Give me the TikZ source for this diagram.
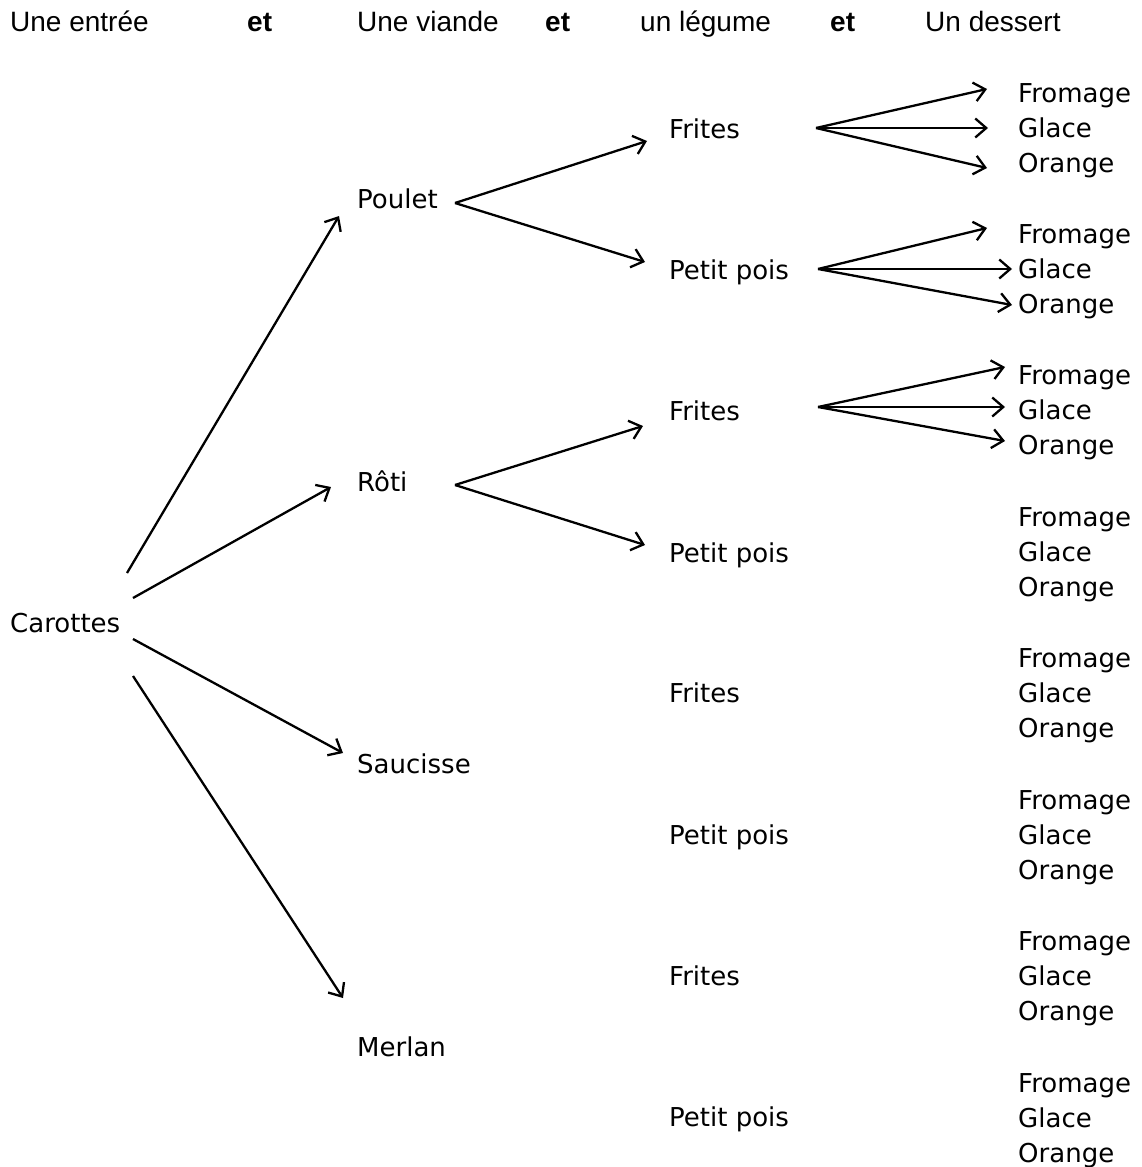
\documentclass[tikz,border=0pt]{standalone}
\usepackage{fontspec}
\setmainfont{DejaVu Sans}
\newfontfamily\headfont{Liberation Sans}
\usetikzlibrary{arrows.meta,calc}
\begin{document}
\begin{tikzpicture}[x=1pt,y=-1pt,
  lbl/.style={anchor=base west,inner sep=0pt,font=\fontsize{26}{30}\selectfont},
  hd/.style={anchor=base west,inner sep=0pt,font=\headfont\fontsize{28}{32}\selectfont},
  hdb/.style={hd,font=\headfont\bfseries\fontsize{28}{32}\selectfont},
  arr/.style={line width=2.3pt,-{Straight Barb[length=11pt,width=19pt]}}]
\useasboundingbox (0,0) rectangle (1141,1167);
% headers
\node[hd]  (h1) at (10,31)  {Une entrée};
\node[hdb] (e1) at (247,31) {et};
\node[hd]  (h2) at (357,31) {Une viande};
\node[hdb] (e2) at (545,31) {et};
\node[hd]  (h3) at (640,31) {un légume};
\node[hdb] (e3) at (830,31) {et};
\node[hd]  (h4) at (925,31) {Un dessert};
% entree
\node[lbl] (car) at (10,632) {Carottes};
% viandes
\node[lbl] (pou) at (357,208) {Poulet};
\node[lbl] (rot) at (357,491) {Rôti};
\node[lbl] (sau) at (357,773) {Saucisse};
\node[lbl] (mer) at (357,1056) {Merlan};
% legumes
\node[lbl] (l1) at (669,138) {Frites};
\node[lbl] (l2) at (669,279) {Petit pois};
\node[lbl] (l3) at (669,420) {Frites};
\node[lbl] (l4) at (669,562) {Petit pois};
\node[lbl] (l5) at (669,702) {Frites};
\node[lbl] (l6) at (669,844) {Petit pois};
\node[lbl] (l7) at (669,985) {Frites};
\node[lbl] (l8) at (669,1126) {Petit pois};
% desserts
\foreach \i/\y in {1/102,2/243,3/384,4/526,5/667,6/809,7/950,8/1092}{
  \node[lbl] (f\i) at (1018,\y) {Fromage};
  \node[lbl] (g\i) at (1018,\y+35) {Glace};
  \node[lbl] (o\i) at (1018,\y+70) {Orange};
}
% carottes -> viandes
\draw[arr] ($(car.base west)+(117,-59)$) -- ($(pou.base west)+(-18,8)$);
\draw[arr] ($(car.base west)+(123,-34)$) -- ($(rot.base west)+(-26,-4)$);
\draw[arr] ($(car.base west)+(123,7)$)   -- ($(sau.base west)+(-14,-20)$);
\draw[arr] ($(car.base west)+(123,44)$)  -- ($(mer.base west)+(-14,-58)$);
% viandes -> legumes
\draw[arr] ($(pou.base west)+(98,-5)$) -- ($(l1.base west)+(-22,3)$);
\draw[arr] ($(pou.base west)+(98,-5)$) -- ($(l2.base west)+(-24,-17)$);
\draw[arr] ($(rot.base west)+(98,-6)$) -- ($(l3.base west)+(-26,6)$);
\draw[arr] ($(rot.base west)+(98,-6)$) -- ($(l4.base west)+(-24,-17)$);
% legumes -> desserts
\draw[arr] ($(l1.base west)+(147,-10)$) -- ($(f1.base west)+(-31,-13)$);
\draw[arr] ($(l1.base west)+(147,-10)$) -- ($(g1.base west)+(-30,-9)$);
\draw[arr] ($(l1.base west)+(147,-10)$) -- ($(o1.base west)+(-31,-4)$);
\draw[arr] ($(l2.base west)+(149,-10)$) -- ($(f2.base west)+(-31,-15)$);
\draw[arr] ($(l2.base west)+(149,-10)$) -- ($(g2.base west)+(-6,-9)$);
\draw[arr] ($(l2.base west)+(149,-10)$) -- ($(o2.base west)+(-6,-8)$);
\draw[arr] ($(l3.base west)+(149,-13)$) -- ($(f3.base west)+(-13,-17)$);
\draw[arr] ($(l3.base west)+(149,-13)$) -- ($(g3.base west)+(-13,-12)$);
\draw[arr] ($(l3.base west)+(149,-13)$) -- ($(o3.base west)+(-13,-13)$);
\end{tikzpicture}
\end{document}
